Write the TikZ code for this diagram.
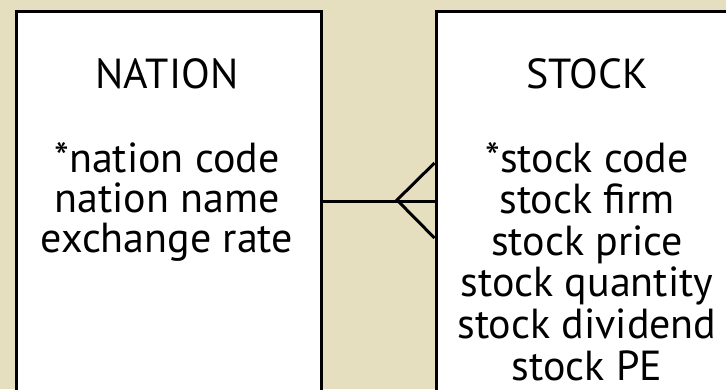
\documentclass[tikz,border=0pt]{standalone}
\usepackage{fontspec}
\setmainfont{PT Sans}
\definecolor{parch}{RGB}{229,223,192}
\tikzset{
  entity/.style={draw=black, fill=white, line width=3pt, rectangle, inner sep=0pt,
    minimum width=305.5pt, minimum height=381pt, anchor=north west},
  label/.style={font=\fontsize{42}{41}\selectfont, text=black, inner sep=0pt, anchor=base, text depth=0pt},
  conn/.style={draw=black, line width=3pt}
}
\begin{document}
\begin{tikzpicture}[x=1pt,y=-1pt]
\useasboundingbox (0,0) rectangle (726,389);
\begin{scope}
\clip (0,0) rectangle (726,389);
\fill[parch] (0,0) rectangle (726,389);
\node[entity] (nation) at (14.5,9.5) {};
\node[entity] (stock) at (434.5,9.5) {};
\node[label] (ntitle) at (167,88) {NATION};
\foreach \t [count=\i] in {*nation code, nation name, exchange rate}
  \node[label] (n\i) at (167,{172+40*(\i-1)}) {\t};
\node[label] (stitle) at (587,88) {STOCK};
\foreach \t [count=\i] in {*stock code, stock firm, stock price, stock quantity, stock dividend, stock PE}
  \node[label] (s\i) at (587,{172+41.6*(\i-1)}) {\t};
\coordinate (cf) at (397,200);
\coordinate (cfu) at (434.5,163);
\coordinate (cfl) at (434.5,238);
\draw[conn] (nation.east) -- (stock.west);
\draw[conn] (cfu) -- (cf) -- (cfl);
\end{scope}
\end{tikzpicture}
\end{document}
